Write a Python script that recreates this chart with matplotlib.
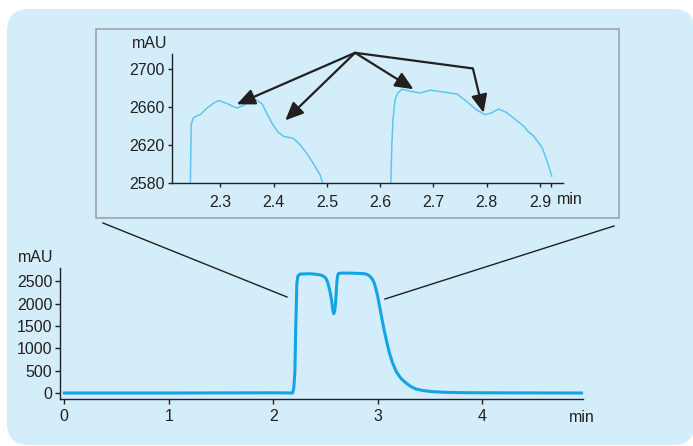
import matplotlib.pyplot as plt
from matplotlib.patches import FancyBboxPatch, Rectangle
from matplotlib.lines import Line2D

plt.rcParams['font.family'] = ['Liberation Sans Narrow', 'Liberation Sans', 'DejaVu Sans']
plt.rcParams['font.size'] = 11.5

# main chromatogram (min, mAU)
main_t = [0.0, 1.0, 2.0, 2.184, 2.195, 2.206, 2.215, 2.225, 2.235, 2.254, 2.30, 2.35, 2.40,
          2.44, 2.47, 2.50, 2.52, 2.54, 2.556, 2.57, 2.578, 2.588, 2.597, 2.607, 2.615,
          2.625, 2.667, 2.75, 2.825, 2.87, 2.905, 2.93, 2.95, 2.968, 2.985, 3.0, 3.016,
          3.04, 3.063, 3.09, 3.111, 3.14, 3.175, 3.22, 3.27, 3.32, 3.365, 3.43, 3.524,
          3.65, 3.84, 4.3, 4.95]
main_y = [0, 0, 5, 0, 100, 448, 1500, 2450, 2620, 2664, 2668, 2672, 2662,
          2649, 2630, 2580, 2480, 2300, 2100, 1850, 1776, 1850, 2050, 2450, 2630,
          2680, 2687, 2684, 2679, 2672, 2649, 2600, 2540, 2450, 2300, 2150, 1950,
          1650, 1380, 1100, 896, 680, 485, 330, 224, 140, 90, 55, 30,
          15, 7, 3, 0]

# zoomed detail, two segments
seg1_t = [2.244, 2.2456, 2.249, 2.253, 2.2625, 2.275, 2.287, 2.297, 2.3125, 2.331, 2.344,
          2.355, 2.366, 2.378, 2.387, 2.397, 2.408, 2.419, 2.4375, 2.45, 2.4625, 2.475,
          2.4875, 2.492]
seg1_y = [2580, 2641, 2648, 2650, 2652, 2659, 2664, 2667, 2664, 2659, 2662,
          2666, 2668, 2664, 2654, 2643, 2634, 2629, 2627, 2620, 2611, 2600,
          2588, 2580]
seg2_t = [2.62, 2.622, 2.624, 2.628, 2.633, 2.641, 2.656, 2.675, 2.694, 2.719, 2.744,
          2.7625, 2.781, 2.797, 2.809, 2.822, 2.835, 2.847, 2.858, 2.869, 2.878, 2.887,
          2.895, 2.903, 2.912, 2.922]
seg2_y = [2580, 2620, 2646, 2668, 2675, 2679, 2677, 2675, 2678, 2676, 2674,
          2666, 2657, 2652, 2654, 2658, 2655, 2650, 2645, 2640, 2634, 2630,
          2624, 2618, 2605, 2587]

arrow_src = (2.553, 2717.6)
arrow_tips = [(2.331, 2663), (2.422, 2646), (2.6625, 2679)]
bend = (2.774, 2701)
bend_tip = (2.794, 2654)

W, H = 693, 446
fig = plt.figure(figsize=(W / 100, H / 100), dpi=100)
fig.patch.set_facecolor('white')


def fx(px):
    return px / W


def fy(py):
    return 1 - py / H


bg = '#d3eefa'
panel = FancyBboxPatch((0.07, 0.01), 6.88, 4.36, boxstyle='round,pad=0,rounding_size=0.22',
                       transform=fig.dpi_scale_trans, facecolor=bg, edgecolor='none', zorder=-3)
fig.patches.append(panel)
frame = Rectangle((0.96, 2.28), 5.23, 1.89, transform=fig.dpi_scale_trans,
                  facecolor='none', edgecolor='#9ea3a8', lw=1.2, zorder=-2)
fig.patches.append(frame)

for (x0, y0, x1, y1) in [(103, 223, 287, 297), (614, 226, 385, 299)]:
    fig.lines.append(Line2D([fx(x0), fx(x1)], [fy(y0), fy(y1)], transform=fig.transFigure,
                            color='#231f20', lw=1.0, zorder=-2))

txt = '#231f20'

# main axes
ax = fig.add_axes([fx(60), fy(399), fx(583) - fx(60), fy(268) - fy(399)])
ax.set_facecolor('none')
ax.plot(main_t, main_y, color='#12a4e4', lw=2.2, solid_joinstyle='round')
ax.set_xlim(-0.041, 4.963)
ax.set_ylim(-134, 2800)
ax.set_xticks([0, 1, 2, 3, 4])
ax.set_yticks([0, 500, 1000, 1500, 2000, 2500])
ax.spines['top'].set_visible(False)
ax.spines['right'].set_visible(False)
for s in ['left', 'bottom']:
    ax.spines[s].set_color(txt)
    ax.spines[s].set_linewidth(1.0)
ax.tick_params(direction='out', length=3.5, width=1.0, colors=txt, labelsize=11.5)
ax.tick_params(axis='x', pad=4)
ax.tick_params(axis='y', pad=2)

fig.text(fx(18), fy(258), 'mAU', ha='left', va='center', color=txt, fontsize=11.5)
fig.text(fx(569), fy(418), 'min', ha='left', va='center', color=txt, fontsize=11.5)

# inset axes
ins = fig.add_axes([fx(171.7), fy(182.7), fx(563) - fx(171.7), fy(54.3) - fy(182.7)])
ins.set_facecolor('none')
ins.plot(seg1_t, seg1_y, color='#5ec5f0', lw=1.1)
ins.plot(seg2_t, seg2_y, color='#5ec5f0', lw=1.1)
ins.set_xlim(2.209, 2.943)
ins.set_ylim(2580, 2716)
ins.set_xticks([2.3, 2.4, 2.5, 2.6, 2.7, 2.8, 2.9])
ins.set_xticks([2.92], minor=True)
ins.set_yticks([2580, 2620, 2660, 2700])
ins.spines['top'].set_visible(False)
ins.spines['right'].set_visible(False)
for s in ['left', 'bottom']:
    ins.spines[s].set_color(txt)
    ins.spines[s].set_linewidth(1.0)
ins.tick_params(direction='out', length=3, width=1.0, colors=txt, labelsize=11.5)
ins.tick_params(which='minor', direction='out', length=3, width=1.0, colors=txt)
ins.tick_params(axis='x', pad=6)
ins.tick_params(axis='y', pad=2)

aprops = dict(arrowstyle='-|>,head_length=0.5,head_width=0.22', color='#231f20', lw=1.6,
              mutation_scale=22, shrinkA=0, shrinkB=0)
for tip in arrow_tips:
    ins.annotate('', xy=tip, xytext=arrow_src, arrowprops=aprops, annotation_clip=False)
ins.plot([arrow_src[0], bend[0]], [arrow_src[1], bend[1]], color='#231f20', lw=1.6,
         clip_on=False, solid_capstyle='butt')
ins.annotate('', xy=bend_tip, xytext=bend, arrowprops=aprops, annotation_clip=False)

fig.text(fx(132), fy(44), 'mAU', ha='left', va='center', color=txt, fontsize=11.5)
fig.text(fx(557), fy(199), 'min', ha='left', va='center', color=txt, fontsize=11.5)

fig.savefig('out.png', dpi=100, facecolor='white')
